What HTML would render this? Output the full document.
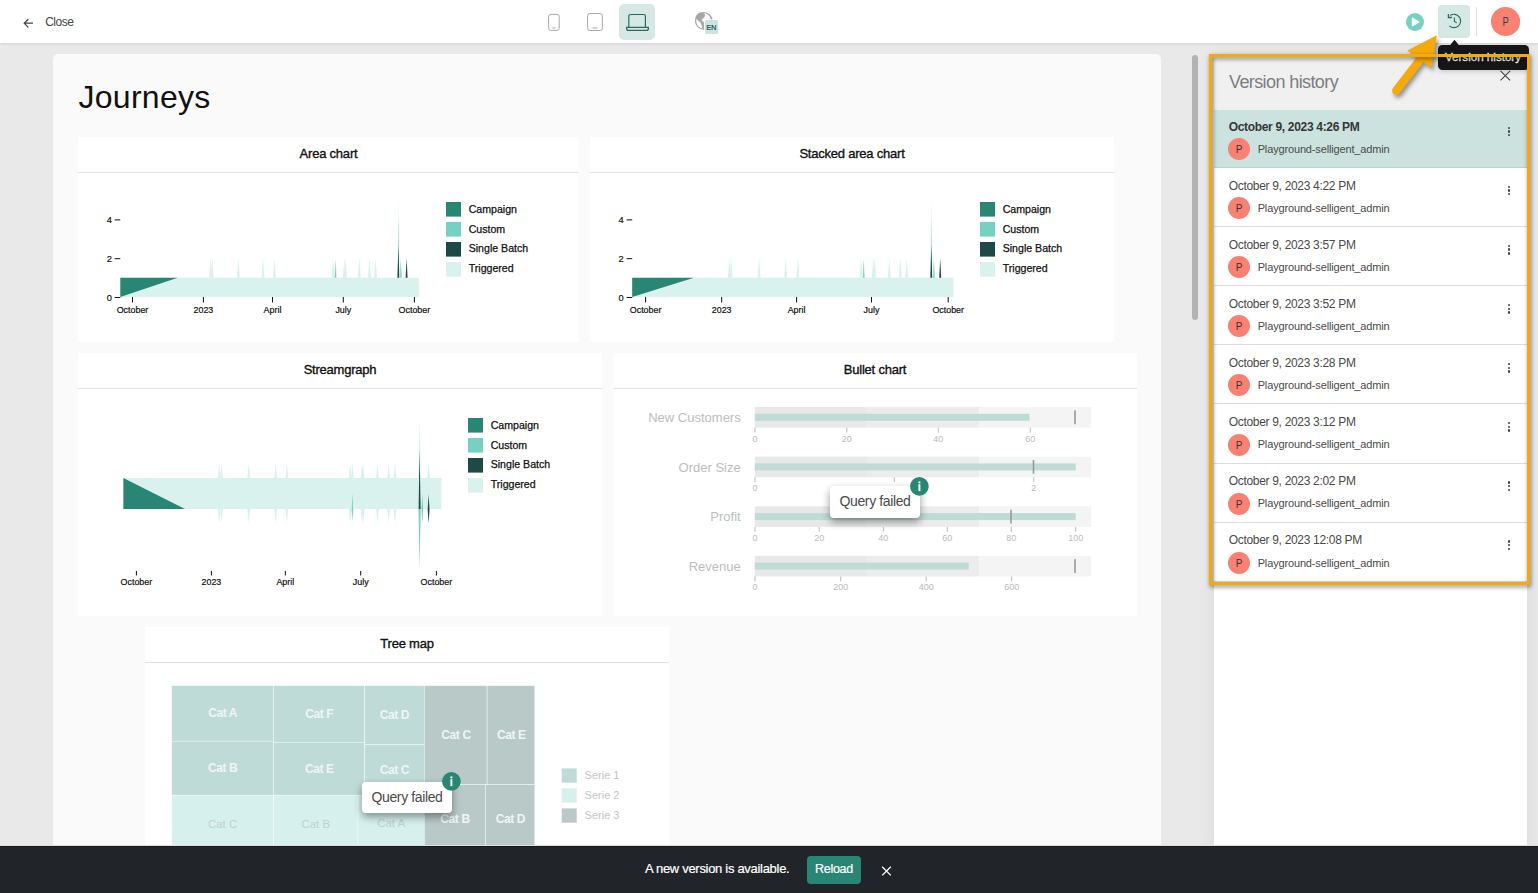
<!DOCTYPE html>
<html><head><meta charset="utf-8">
<style>
*{box-sizing:border-box;margin:0;padding:0}
html,body{width:1538px;height:893px;overflow:hidden;background:#e9e9e9;font-family:"Liberation Sans",sans-serif;}
.abs{position:absolute}
#top{position:absolute;left:0;top:0;width:1538px;height:43px;background:#fff;box-shadow:0 1px 3px rgba(0,0,0,.1);z-index:5}
#card{position:absolute;left:53px;top:54px;width:1108px;height:860px;background:#fafafa;border-radius:5px}
.w{position:absolute;background:#fff}
.w .t{position:absolute;left:0;right:0;top:0;height:36px;border-bottom:1px solid #e2e2e2;text-align:center;font-size:13px;color:#111;line-height:34px;letter-spacing:-.22px;-webkit-text-stroke:.35px #111}
svg{position:absolute;left:0;top:0;overflow:visible}
svg text{font-family:"Liberation Sans",sans-serif}
#panel{position:absolute;left:1214px;top:55px;width:313px;height:800px;background:#fff;box-shadow:0 0 18px rgba(0,0,0,.07)}
#phead{position:absolute;left:0;top:0;width:313px;height:55px;background:#f0f0f0}
.row{position:absolute;left:0;width:313px;height:59px;border-bottom:1px solid #dcdcdc}
.row .d{position:absolute;left:14.7px;top:10.5px;font-size:12px;color:#4a4a4a;white-space:nowrap;letter-spacing:-.31px}
.row .av{position:absolute;left:14px;top:28px;width:22px;height:22px;border-radius:50%;background:#fa8072;color:#333;font-size:10px;text-align:center;line-height:23px}
.row .n{position:absolute;left:43.7px;top:32px;font-size:11px;color:#444;white-space:nowrap;letter-spacing:-.15px;color:#4a4a4a}
.row .k{position:absolute;left:294px;top:17px;width:3px}
.row .k i{display:block;width:2.4px;height:2.4px;border-radius:50%;background:#444;margin-bottom:1.3px}
#bar{position:absolute;left:0;top:845px;width:1538px;height:48px;background:#212529;z-index:20;border-top:1px solid rgba(255,255,255,.85);box-shadow:inset 0 1px 0 #181a1e}
.qf{position:absolute;background:#fff;border-radius:4px;box-shadow:0 4px 9px rgba(0,0,0,.4);font-size:14px;letter-spacing:-.38px;color:#4a4a4a;text-align:center;white-space:nowrap}
.ic{position:absolute;width:18px;height:18px;border-radius:50%;background:#2a8674;color:#fff;font-size:12px;font-weight:bold;text-align:center;line-height:18px}
</style></head><body>

<div id="top">
<svg width="1538" height="43" viewBox="0 0 1538 43">
 <!-- back arrow -->
 <path d="M33 23.2H24.2M28.3 19.2L24.2 23.2L28.3 27.3" fill="none" stroke="#444" stroke-width="1.2"/>
 <!-- phone -->
 <rect x="548.6" y="14.4" width="10.6" height="16" rx="2.2" fill="none" stroke="#aaa" stroke-width="1"/>
 <path d="M552.3 28h3.2" stroke="#aaa" stroke-width="1"/>
 <!-- tablet -->
 <rect x="587.6" y="13.5" width="14.8" height="17" rx="2.2" fill="none" stroke="#aaa" stroke-width="1"/>
 <path d="M592.5 28h5" stroke="#aaa" stroke-width="1"/>
 <!-- laptop btn -->
 <rect x="619" y="4" width="36" height="36" rx="5" fill="#d5e8e4"/>
 <path d="M628.8 27.2V16.2a1.7 1.7 0 0 1 1.7-1.7h13.2a1.7 1.7 0 0 1 1.7 1.7V27.2" fill="none" stroke="#2a6b5f" stroke-width="1.2"/>
 <path d="M626.6 27.4h21.8v1a2 2 0 0 1-2 2h-17.8a2 2 0 0 1-2-2z" fill="none" stroke="#2a6b5f" stroke-width="1.2"/>
 <!-- globe -->
 <circle cx="703.700" cy="20.800" r="8.200" fill="#fff" stroke="#a6a6a6" stroke-width="1.250"/>
 <path d="M695.900 17.600L697.200 14.800L699.400 13L702.500 13.100L704.500 14.300L704.800 15.900L703.200 18.100L701.100 20.200L702.600 21.200L703.900 23L704 25.600L703.900 29.300L702.500 28.100L701.800 24.900L700.600 22.200L698.400 20.600L696.500 19.100z" fill="#a6a6a6" stroke="#a6a6a6" stroke-width=".6" stroke-linejoin="round"/>
 <path d="M709 18.600L711.300 16.700L712.700 18.600z" fill="#a6a6a6"/>
 <rect x="704.300" y="19.400" width="14.400" height="15.200" rx="2" fill="#fff"/>
 <rect x="705" y="20.100" width="13" height="13.800" rx="1.500" fill="#cde3df"/>
 <text x="711.200" y="29.900" font-size="7.600" font-weight="bold" fill="#2a6b5f" text-anchor="middle" letter-spacing="-.35">EN</text>
 <!-- play -->
 <circle cx="1415" cy="22" r="9" fill="#76d1c3"/>
 <path d="M1412.200 17.800v8.400l7-4.200z" fill="#fff" stroke="#fff" stroke-width=".8" stroke-linejoin="round"/>
 <!-- history btn -->
 <rect x="1438" y="5" width="32" height="33" rx="4" fill="#d5e8e4"/>
 <path d="M1450.200 15.400A6.700 6.700 0 1 1 1449.400 25.900" fill="none" stroke="#2a6b5f" stroke-width="1.150"/>
 <path d="M1448.400 14v3.500h3.500" fill="none" stroke="#2a6b5f" stroke-width="1.300"/>
 <path d="M1454.400 17.500v4l2.300 1.300" fill="none" stroke="#2a6b5f" stroke-width="1.100"/>
 <path d="M1476.500 7.200v28.400" stroke="#ddd" stroke-width="1"/>
 <circle cx="1505.500" cy="21.500" r="14.600" fill="#fa8072"/>
 <text x="0" y="0" font-size="12.500" fill="#24474a" text-anchor="middle" transform="translate(1505.700 25.900) scale(.74 1)">P</text>
</svg>
<div class="abs" style="left:45.200px;top:15.200px;font-size:12px;color:#444;letter-spacing:-.5px">Close</div>
</div>
<div id="card"></div>
<div class="abs" style="left:78.4px;top:79.2px;font-size:32px;color:#111;line-height:37px;letter-spacing:.3px">Journeys</div>
<div class="w" style="left:78px;top:137px;width:501px;height:205px"><div class="t">Area chart</div></div>
<div class="w" style="left:590px;top:137px;width:524px;height:205px"><div class="t">Stacked area chart</div></div>
<div class="w" style="left:78px;top:353px;width:524px;height:263px"><div class="t">Streamgraph</div></div>
<div class="w" style="left:613px;top:353px;width:524px;height:263px"><div class="t">Bullet chart</div></div>
<div class="w" style="left:145px;top:627px;width:524px;height:240px"><div class="t">Tree map</div></div>
<svg width="1538" height="893" viewBox="0 0 1538 893" style="z-index:2">
<text x="111.8" y="300.7" font-size="9.3" fill="#111" stroke="#111" stroke-width=".2" text-anchor="end">0</text><path d="M114.7 297.5h5.6" stroke="#111" stroke-width="1"/><text x="111.8" y="261.9" font-size="9.3" fill="#111" stroke="#111" stroke-width=".2" text-anchor="end">2</text><path d="M114.7 258.7h5.6" stroke="#111" stroke-width="1"/><text x="111.8" y="223.1" font-size="9.3" fill="#111" stroke="#111" stroke-width=".2" text-anchor="end">4</text><path d="M114.7 219.9h5.6" stroke="#111" stroke-width="1"/><rect x="120.3" y="277.7" width="298.6" height="19.4" fill="#d9f2ed"/><path d="M120.3 277.7L177.7 277.7L120.3 297.1z" fill="#2a8674"/><path d="M209.1 277.7L210.6 258.3L212.1 277.7z" fill="#d9f2ed"/><path d="M210.7 277.7L212.2 258.3L213.7 277.7z" fill="#d9f2ed"/><path d="M236.8 277.7L238.3 258.3L239.8 277.7z" fill="#d9f2ed"/><path d="M261.5 277.7L263.0 258.3L264.5 277.7z" fill="#d9f2ed"/><path d="M272.8 277.7L274.3 258.3L275.8 277.7z" fill="#d9f2ed"/><path d="M331.6 277.7L333.1 258.3L334.6 277.7z" fill="#d9f2ed"/><path d="M357.8 277.7L359.3 258.3L360.8 277.7z" fill="#d9f2ed"/><path d="M368.0 277.7L369.5 258.3L371.0 277.7z" fill="#d9f2ed"/><path d="M374.0 277.7L375.5 258.3L377.0 277.7z" fill="#d9f2ed"/><path d="M342.9 277.7L344.3 258.3L345.7 277.7z" fill="#d9f2ed"/><path d="M344.2 277.7L345.6 258.3L347.0 277.7z" fill="#d9f2ed"/><path d="M334.1 277.7L335.5 258.3L336.9 277.7z" fill="#d9f2ed"/><path d="M334.8 277.7L335.5 260.2L336.2 277.7z" fill="#76d1c3"/><path d="M397.2 277.7L398.4 200.1L399.6 277.7z" fill="#d9f2ed"/><path d="M397.8 277.7L398.4 219.5L398.9 277.7z" fill="#76d1c3"/><path d="M397.5 277.7L398.4 244.7L399.3 277.7z" fill="#1c4b47"/><path d="M399.5 277.7L400.8 258.3L402.1 277.7z" fill="#d9f2ed"/><path d="M400.1 277.7L400.8 259.3L401.5 277.7z" fill="#76d1c3"/><path d="M405.6 277.7L406.6 258.3L407.6 277.7z" fill="#1c4b47"/><path d="M132.5 297v5.5" stroke="#111" stroke-width="1"/><text x="132.5" y="312.5" font-size="8.9" fill="#111" stroke="#111" stroke-width=".2" text-anchor="middle">October</text><path d="M203.4 297v5.5" stroke="#111" stroke-width="1"/><text x="203.4" y="312.5" font-size="8.9" fill="#111" stroke="#111" stroke-width=".2" text-anchor="middle">2023</text><path d="M272.5 297v5.5" stroke="#111" stroke-width="1"/><text x="272.5" y="312.5" font-size="8.9" fill="#111" stroke="#111" stroke-width=".2" text-anchor="middle">April</text><path d="M343.3 297v5.5" stroke="#111" stroke-width="1"/><text x="343.3" y="312.5" font-size="8.9" fill="#111" stroke="#111" stroke-width=".2" text-anchor="middle">July</text><path d="M414.4 297v5.5" stroke="#111" stroke-width="1"/><text x="414.4" y="312.5" font-size="8.9" fill="#111" stroke="#111" stroke-width=".2" text-anchor="middle">October</text><rect x="446" y="202.0" width="15" height="14.6" fill="#2a8674"/><text x="468.7" y="212.8" font-size="10.6" fill="#111" stroke="#111" stroke-width=".25">Campaign</text><rect x="446" y="222.0" width="15" height="14.6" fill="#76d1c3"/><text x="468.7" y="232.6" font-size="10.6" fill="#111" stroke="#111" stroke-width=".25">Custom</text><rect x="446" y="242.0" width="15" height="14.6" fill="#1c4b47"/><text x="468.7" y="252.0" font-size="10.6" fill="#111" stroke="#111" stroke-width=".25">Single Batch</text><rect x="446" y="262.0" width="15" height="14.6" fill="#d9f2ed"/><text x="468.7" y="271.6" font-size="10.6" fill="#111" stroke="#111" stroke-width=".25">Triggered</text>
<text x="623.7" y="300.7" font-size="9.3" fill="#111" stroke="#111" stroke-width=".2" text-anchor="end">0</text><path d="M626.6 297.5h5.6" stroke="#111" stroke-width="1"/><text x="623.7" y="261.9" font-size="9.3" fill="#111" stroke="#111" stroke-width=".2" text-anchor="end">2</text><path d="M626.6 258.7h5.6" stroke="#111" stroke-width="1"/><text x="623.7" y="223.1" font-size="9.3" fill="#111" stroke="#111" stroke-width=".2" text-anchor="end">4</text><path d="M626.6 219.9h5.6" stroke="#111" stroke-width="1"/><rect x="632.2" y="277.7" width="321.2" height="19.4" fill="#d9f2ed"/><path d="M632.2 277.7L693.9 277.7L632.2 297.1z" fill="#2a8674"/><path d="M727.8 277.7L729.3 258.3L730.8 277.7z" fill="#d9f2ed"/><path d="M729.6 277.7L731.1 258.3L732.6 277.7z" fill="#d9f2ed"/><path d="M757.6 277.7L759.1 258.3L760.6 277.7z" fill="#d9f2ed"/><path d="M784.2 277.7L785.7 258.3L787.2 277.7z" fill="#d9f2ed"/><path d="M796.4 277.7L797.9 258.3L799.4 277.7z" fill="#d9f2ed"/><path d="M859.6 277.7L861.1 258.3L862.6 277.7z" fill="#d9f2ed"/><path d="M887.8 277.7L889.3 258.3L890.8 277.7z" fill="#d9f2ed"/><path d="M898.8 277.7L900.3 258.3L901.8 277.7z" fill="#d9f2ed"/><path d="M905.2 277.7L906.7 258.3L908.2 277.7z" fill="#d9f2ed"/><path d="M871.8 277.7L873.2 258.3L874.6 277.7z" fill="#d9f2ed"/><path d="M873.2 277.7L874.6 258.3L876.0 277.7z" fill="#d9f2ed"/><path d="M862.3 277.7L863.7 258.3L865.1 277.7z" fill="#d9f2ed"/><path d="M863.0 277.7L863.7 260.2L864.4 277.7z" fill="#76d1c3"/><path d="M930.1 277.7L931.3 200.1L932.5 277.7z" fill="#d9f2ed"/><path d="M930.8 277.7L931.3 219.5L931.9 277.7z" fill="#76d1c3"/><path d="M930.4 277.7L931.3 244.7L932.2 277.7z" fill="#1c4b47"/><path d="M932.6 277.7L933.9 258.3L935.2 277.7z" fill="#d9f2ed"/><path d="M933.2 277.7L933.9 259.3L934.6 277.7z" fill="#76d1c3"/><path d="M939.2 277.7L940.2 258.3L941.2 277.7z" fill="#1c4b47"/><path d="M645.6 297v5.5" stroke="#111" stroke-width="1"/><text x="645.6" y="312.5" font-size="8.9" fill="#111" stroke="#111" stroke-width=".2" text-anchor="middle">October</text><path d="M721.7 297v5.5" stroke="#111" stroke-width="1"/><text x="721.7" y="312.5" font-size="8.9" fill="#111" stroke="#111" stroke-width=".2" text-anchor="middle">2023</text><path d="M796.6 297v5.5" stroke="#111" stroke-width="1"/><text x="796.6" y="312.5" font-size="8.9" fill="#111" stroke="#111" stroke-width=".2" text-anchor="middle">April</text><path d="M871.5 297v5.5" stroke="#111" stroke-width="1"/><text x="871.5" y="312.5" font-size="8.9" fill="#111" stroke="#111" stroke-width=".2" text-anchor="middle">July</text><path d="M948.2 297v5.5" stroke="#111" stroke-width="1"/><text x="948.2" y="312.5" font-size="8.9" fill="#111" stroke="#111" stroke-width=".2" text-anchor="middle">October</text><rect x="980" y="202.0" width="15" height="14.6" fill="#2a8674"/><text x="1002.7" y="212.8" font-size="10.6" fill="#111" stroke="#111" stroke-width=".25">Campaign</text><rect x="980" y="222.0" width="15" height="14.6" fill="#76d1c3"/><text x="1002.7" y="232.6" font-size="10.6" fill="#111" stroke="#111" stroke-width=".25">Custom</text><rect x="980" y="242.0" width="15" height="14.6" fill="#1c4b47"/><text x="1002.7" y="252.0" font-size="10.6" fill="#111" stroke="#111" stroke-width=".25">Single Batch</text><rect x="980" y="262.0" width="15" height="14.6" fill="#d9f2ed"/><text x="1002.7" y="271.6" font-size="10.6" fill="#111" stroke="#111" stroke-width=".25">Triggered</text>
<rect x="123.4" y="478" width="317.9" height="31" fill="#d9f2ed"/><path d="M123.4 478L185 509L123.4 509z" fill="#2a8674"/><path d="M217.8 478L219.2 463.4L220.6 478z" fill="#d9f2ed"/><path d="M217.8 509L219.2 523.2L220.6 509z" fill="#d9f2ed"/><path d="M220.2 478L221.6 463.4L223.0 478z" fill="#d9f2ed"/><path d="M220.2 509L221.6 523.2L223.0 509z" fill="#d9f2ed"/><path d="M247.4 478L248.8 463.4L250.2 478z" fill="#d9f2ed"/><path d="M247.4 509L248.8 523.2L250.2 509z" fill="#d9f2ed"/><path d="M274.3 478L275.7 463.4L277.1 478z" fill="#d9f2ed"/><path d="M274.3 509L275.7 523.2L277.1 509z" fill="#d9f2ed"/><path d="M285.5 478L286.9 463.4L288.3 478z" fill="#d9f2ed"/><path d="M285.5 509L286.9 523.2L288.3 509z" fill="#d9f2ed"/><path d="M348.8 478L350.2 463.4L351.6 478z" fill="#d9f2ed"/><path d="M348.8 509L350.2 523.2L351.6 509z" fill="#d9f2ed"/><path d="M351.0 478L352.4 463.4L353.8 478z" fill="#d9f2ed"/><path d="M351.0 509L352.4 523.2L353.8 509z" fill="#d9f2ed"/><path d="M360.6 478L362.0 463.4L363.4 478z" fill="#d9f2ed"/><path d="M360.6 509L362.0 523.2L363.4 509z" fill="#d9f2ed"/><path d="M361.8 478L363.2 463.4L364.6 478z" fill="#d9f2ed"/><path d="M361.8 509L363.2 523.2L364.6 509z" fill="#d9f2ed"/><path d="M376.1 478L377.5 463.4L378.9 478z" fill="#d9f2ed"/><path d="M376.1 509L377.5 523.2L378.9 509z" fill="#d9f2ed"/><path d="M387.3 478L388.7 463.4L390.1 478z" fill="#d9f2ed"/><path d="M387.3 509L388.7 523.2L390.1 509z" fill="#d9f2ed"/><path d="M393.6 478L395.0 463.4L396.4 478z" fill="#d9f2ed"/><path d="M393.6 509L395.0 523.2L396.4 509z" fill="#d9f2ed"/><path d="M427.2 478L428.6 463.4L430.0 478z" fill="#d9f2ed"/><path d="M427.2 509L428.6 523.2L430.0 509z" fill="#d9f2ed"/><path d="M351.7 509L352.4 493L353.1 509z" fill="#76d1c3"/><path d="M351.7 509L352.4 520L353.1 509z" fill="#76d1c3"/><path d="M418.4 478L419.6 419L420.8 478z" fill="#d9f2ed"/><path d="M418.5 509L419.6 569L420.7 509z" fill="#76d1c3"/><path d="M418.6 509L419.6 449L420.6 509z" fill="#1c4b47"/><path d="M421.4 509L422.3 494L423.2 509z" fill="#76d1c3"/><path d="M421.4 509L422.3 523L423.2 509z" fill="#76d1c3"/><path d="M427.7 509L428.6 494L429.5 509z" fill="#1c4b47"/><path d="M427.7 509L428.6 523L429.5 509z" fill="#1c4b47"/><path d="M136.4 571v4.5" stroke="#111" stroke-width="1"/><text x="136.4" y="585" font-size="8.9" fill="#111" stroke="#111" stroke-width=".2" text-anchor="middle">October</text><path d="M211.4 571v4.5" stroke="#111" stroke-width="1"/><text x="211.4" y="585" font-size="8.9" fill="#111" stroke="#111" stroke-width=".2" text-anchor="middle">2023</text><path d="M285.3 571v4.5" stroke="#111" stroke-width="1"/><text x="285.3" y="585" font-size="8.9" fill="#111" stroke="#111" stroke-width=".2" text-anchor="middle">April</text><path d="M360.7 571v4.5" stroke="#111" stroke-width="1"/><text x="360.7" y="585" font-size="8.9" fill="#111" stroke="#111" stroke-width=".2" text-anchor="middle">July</text><path d="M436.4 571v4.5" stroke="#111" stroke-width="1"/><text x="436.4" y="585" font-size="8.9" fill="#111" stroke="#111" stroke-width=".2" text-anchor="middle">October</text><rect x="468" y="418.0" width="15" height="14.6" fill="#2a8674"/><text x="490.7" y="428.8" font-size="10.6" fill="#111" stroke="#111" stroke-width=".25">Campaign</text><rect x="468" y="438.0" width="15" height="14.6" fill="#76d1c3"/><text x="490.7" y="448.6" font-size="10.6" fill="#111" stroke="#111" stroke-width=".25">Custom</text><rect x="468" y="458.0" width="15" height="14.6" fill="#1c4b47"/><text x="490.7" y="468.0" font-size="10.6" fill="#111" stroke="#111" stroke-width=".25">Single Batch</text><rect x="468" y="478.0" width="15" height="14.6" fill="#d9f2ed"/><text x="490.7" y="487.6" font-size="10.6" fill="#111" stroke="#111" stroke-width=".25">Triggered</text>
<rect x="754.8" y="407" width="112" height="20.6" fill="#e8e8e8"/><rect x="866.8" y="407" width="112.4" height="20.6" fill="#ececec"/><rect x="979.2" y="407" width="112" height="20.6" fill="#f4f4f4"/><rect x="754.8" y="413.8" width="274.7" height="7" fill="#bedbd6"/><rect x="1074.2" y="410.4" width="1.6" height="13.8" fill="#999"/><text x="740.7" y="422.1" font-size="13" fill="#bdbdbd" text-anchor="end">New Customers</text><path d="M755.0 427.6v5" stroke="#bbb" stroke-width="1"/><text x="755.0" y="441.6" font-size="9" fill="#bbb" text-anchor="middle">0</text><path d="M846.8 427.6v5" stroke="#bbb" stroke-width="1"/><text x="846.8" y="441.6" font-size="9" fill="#bbb" text-anchor="middle">20</text><path d="M938.3 427.6v5" stroke="#bbb" stroke-width="1"/><text x="938.3" y="441.6" font-size="9" fill="#bbb" text-anchor="middle">40</text><path d="M1030.3 427.6v5" stroke="#bbb" stroke-width="1"/><text x="1030.3" y="441.6" font-size="9" fill="#bbb" text-anchor="middle">60</text><rect x="754.8" y="456.6" width="112" height="20.6" fill="#e8e8e8"/><rect x="866.8" y="456.6" width="112.4" height="20.6" fill="#ececec"/><rect x="979.2" y="456.6" width="112" height="20.6" fill="#f4f4f4"/><rect x="754.8" y="463.4" width="320.9" height="7" fill="#bedbd6"/><rect x="1032.7" y="460.0" width="1.6" height="13.8" fill="#999"/><text x="740.7" y="471.7" font-size="13" fill="#bdbdbd" text-anchor="end">Order Size</text><path d="M755.0 477.2v5" stroke="#bbb" stroke-width="1"/><text x="755.0" y="491.2" font-size="9" fill="#bbb" text-anchor="middle">0</text><path d="M894.3 477.2v5" stroke="#bbb" stroke-width="1"/><text x="894.3" y="491.2" font-size="9" fill="#bbb" text-anchor="middle"></text><path d="M1033.8 477.2v5" stroke="#bbb" stroke-width="1"/><text x="1033.8" y="491.2" font-size="9" fill="#bbb" text-anchor="middle">2</text><rect x="754.8" y="506.3" width="112" height="20.6" fill="#e8e8e8"/><rect x="866.8" y="506.3" width="112.4" height="20.6" fill="#ececec"/><rect x="979.2" y="506.3" width="112" height="20.6" fill="#f4f4f4"/><rect x="754.8" y="513.1" width="320.9" height="7" fill="#bedbd6"/><rect x="1010.2" y="509.7" width="1.6" height="13.8" fill="#999"/><text x="740.7" y="521.4" font-size="13" fill="#bdbdbd" text-anchor="end">Profit</text><path d="M755.0 526.9v5" stroke="#bbb" stroke-width="1"/><text x="755.0" y="540.9" font-size="9" fill="#bbb" text-anchor="middle">0</text><path d="M819.2 526.9v5" stroke="#bbb" stroke-width="1"/><text x="819.2" y="540.9" font-size="9" fill="#bbb" text-anchor="middle">20</text><path d="M883.3 526.9v5" stroke="#bbb" stroke-width="1"/><text x="883.3" y="540.9" font-size="9" fill="#bbb" text-anchor="middle">40</text><path d="M947.3 526.9v5" stroke="#bbb" stroke-width="1"/><text x="947.3" y="540.9" font-size="9" fill="#bbb" text-anchor="middle">60</text><path d="M1011.3 526.9v5" stroke="#bbb" stroke-width="1"/><text x="1011.3" y="540.9" font-size="9" fill="#bbb" text-anchor="middle">80</text><path d="M1075.7 526.9v5" stroke="#bbb" stroke-width="1"/><text x="1075.7" y="540.9" font-size="9" fill="#bbb" text-anchor="middle">100</text><rect x="754.8" y="555.8" width="112" height="20.6" fill="#e8e8e8"/><rect x="866.8" y="555.8" width="112.4" height="20.6" fill="#ececec"/><rect x="979.2" y="555.8" width="112" height="20.6" fill="#f4f4f4"/><rect x="754.8" y="562.6" width="213.9" height="7" fill="#bedbd6"/><rect x="1074.2" y="559.2" width="1.6" height="13.8" fill="#999"/><text x="740.7" y="570.9" font-size="13" fill="#bdbdbd" text-anchor="end">Revenue</text><path d="M755.0 576.4v5" stroke="#bbb" stroke-width="1"/><text x="755.0" y="590.4" font-size="9" fill="#bbb" text-anchor="middle">0</text><path d="M840.7 576.4v5" stroke="#bbb" stroke-width="1"/><text x="840.7" y="590.4" font-size="9" fill="#bbb" text-anchor="middle">200</text><path d="M926.2 576.4v5" stroke="#bbb" stroke-width="1"/><text x="926.2" y="590.4" font-size="9" fill="#bbb" text-anchor="middle">400</text><path d="M1011.7 576.4v5" stroke="#bbb" stroke-width="1"/><text x="1011.7" y="590.4" font-size="9" fill="#bbb" text-anchor="middle">600</text>
<rect x="171.8" y="685.8" width="362.7" height="175" fill="#fff"/><rect x="171.8" y="685.8" width="101.2" height="55.1" fill="#bfdbd7"/><rect x="171.8" y="741.4" width="101.2" height="53.5" fill="#bfdbd7"/><rect x="171.8" y="795.4" width="101.2" height="64.6" fill="#d6f1ed"/><rect x="273.6" y="685.8" width="90.7" height="56.2" fill="#bfdbd7"/><rect x="273.6" y="742.5" width="90.7" height="52.4" fill="#bfdbd7"/><rect x="273.6" y="795.4" width="84.0" height="64.6" fill="#d6f1ed"/><rect x="364.9" y="685.8" width="59.3" height="58.6" fill="#bfdbd7"/><rect x="364.9" y="745" width="59.3" height="49.9" fill="#bfdbd7"/><rect x="358.2" y="795.4" width="66.0" height="64.6" fill="#d6f1ed"/><rect x="424.6" y="685.8" width="62.2" height="98.4" fill="#b9c9c8"/><rect x="487.4" y="685.8" width="47.1" height="98.4" fill="#b9c9c8"/><rect x="424.6" y="784.8" width="60.6" height="75.2" fill="#b9c9c8"/><rect x="485.8" y="784.8" width="48.7" height="75.2" fill="#b9c9c8"/><text x="222.6" y="717.2" font-size="12" font-weight="bold" fill="#eef6f5" text-anchor="middle" letter-spacing="-.4">Cat A</text><text x="222.6" y="772.4" font-size="12" font-weight="bold" fill="#eef6f5" text-anchor="middle" letter-spacing="-.4">Cat B</text><text x="222.6" y="828.2" font-size="11.4" fill="#c0d0cd" text-anchor="middle">Cat C</text><text x="319.3" y="718" font-size="12" font-weight="bold" fill="#eef6f5" text-anchor="middle" letter-spacing="-.4">Cat F</text><text x="319.3" y="773" font-size="12" font-weight="bold" fill="#eef6f5" text-anchor="middle" letter-spacing="-.4">Cat E</text><text x="315.8" y="828.2" font-size="11.4" fill="#c0d0cd" text-anchor="middle">Cat B</text><text x="394.4" y="719" font-size="12" font-weight="bold" fill="#eef6f5" text-anchor="middle" letter-spacing="-.4">Cat D</text><text x="394.4" y="774" font-size="12" font-weight="bold" fill="#eef6f5" text-anchor="middle" letter-spacing="-.4">Cat C</text><text x="391.2" y="827.4" font-size="11.4" fill="#c0d0cd" text-anchor="middle">Cat A</text><text x="456" y="739" font-size="12" font-weight="bold" fill="#eef6f5" text-anchor="middle" letter-spacing="-.4">Cat C</text><text x="511.4" y="739" font-size="12" font-weight="bold" fill="#eef6f5" text-anchor="middle" letter-spacing="-.4">Cat E</text><text x="455" y="823" font-size="12" font-weight="bold" fill="#eef6f5" text-anchor="middle" letter-spacing="-.4">Cat B</text><text x="510.4" y="823" font-size="12" font-weight="bold" fill="#eef6f5" text-anchor="middle" letter-spacing="-.4">Cat D</text><rect x="561.7" y="768.4" width="15" height="14.3" fill="#bfdbd7"/><text x="584.6" y="779.4" font-size="11" fill="#c4c4c4">Serie 1</text><rect x="561.7" y="788.4" width="15" height="14.3" fill="#d6f1ed"/><text x="584.6" y="799.4" font-size="11" fill="#c4c4c4">Serie 2</text><rect x="561.7" y="808.4" width="15" height="14.3" fill="#b9c9c8"/><text x="584.6" y="819.4" font-size="11" fill="#c4c4c4">Serie 3</text>
</svg>
<div class="qf" style="left:830px;top:486px;width:90px;height:31.5px;line-height:30.5px;z-index:3">Query failed</div>
<svg width="20" height="20" style="left:909.5px;top:477px;z-index:4"><circle cx="9.4" cy="9.4" r="9.3" fill="#2a8674"/><circle cx="9.4" cy="5.4" r="1.15" fill="#fff"/><rect x="8.4" y="7.2" width="2" height="6.9" fill="#fff"/></svg>
<div class="qf" style="left:362px;top:782px;width:90px;height:31px;line-height:30px;z-index:3">Query failed</div>
<svg width="20" height="20" style="left:441.8px;top:772.3px;z-index:4"><circle cx="9.4" cy="9.4" r="9.3" fill="#2a8674"/><circle cx="9.4" cy="5.4" r="1.15" fill="#fff"/><rect x="8.4" y="7.2" width="2" height="6.9" fill="#fff"/></svg>
<div class="abs" style="left:1192px;top:55px;width:6px;height:265px;border-radius:3px;background:#b3b3b3"></div>
<div id="panel"><div id="phead"></div>
<div class="abs" style="left:15px;top:16.5px;font-size:18px;color:#7d7d7d;white-space:nowrap;letter-spacing:-.6px">Version history</div>
<svg width="313" height="60" style="left:0;top:0"><path d="M286.5 15.800l9.600 9.600M296.100 15.800l-9.600 9.600" stroke="#444" stroke-width="1.100" fill="none"/></svg>
<div class="row" style="top:55px;height:58px;background:#cbe2de;border-bottom-color:#b9d3ce"><div class="d" style="font-weight:bold;color:#333;letter-spacing:-.32px;top:9.5px;color:#363636">October 9, 2023 4:26 PM</div><div class="av" style="top:28px">P</div><div class="n" style="top:32.9px">Playground-selligent_admin</div><div class="k" style="top:16.6px"><i></i><i></i><i></i></div></div>
<div class="row" style="top:113.10px"><div class="d">October 9, 2023 4:22 PM</div><div class="av" style="top:29px">P</div><div class="n" style="top:33.9px">Playground-selligent_admin</div><div class="k" style="top:17.6px"><i></i><i></i><i></i></div></div>
<div class="row" style="top:172.20px"><div class="d">October 9, 2023 3:57 PM</div><div class="av" style="top:29px">P</div><div class="n" style="top:33.9px">Playground-selligent_admin</div><div class="k" style="top:17.6px"><i></i><i></i><i></i></div></div>
<div class="row" style="top:231.30px"><div class="d">October 9, 2023 3:52 PM</div><div class="av" style="top:29px">P</div><div class="n" style="top:33.9px">Playground-selligent_admin</div><div class="k" style="top:17.6px"><i></i><i></i><i></i></div></div>
<div class="row" style="top:290.40px"><div class="d">October 9, 2023 3:28 PM</div><div class="av" style="top:29px">P</div><div class="n" style="top:33.9px">Playground-selligent_admin</div><div class="k" style="top:17.6px"><i></i><i></i><i></i></div></div>
<div class="row" style="top:349.50px"><div class="d">October 9, 2023 3:12 PM</div><div class="av" style="top:29px">P</div><div class="n" style="top:33.9px">Playground-selligent_admin</div><div class="k" style="top:17.6px"><i></i><i></i><i></i></div></div>
<div class="row" style="top:408.60px"><div class="d">October 9, 2023 2:02 PM</div><div class="av" style="top:29px">P</div><div class="n" style="top:33.9px">Playground-selligent_admin</div><div class="k" style="top:17.6px"><i></i><i></i><i></i></div></div>
<div class="row" style="top:467.70px"><div class="d">October 9, 2023 12:08 PM</div><div class="av" style="top:29px">P</div><div class="n" style="top:33.9px">Playground-selligent_admin</div><div class="k" style="top:17.6px"><i></i><i></i><i></i></div></div>
</div>
<!-- tooltip -->
<div class="abs" style="left:1438px;top:45px;width:91px;height:25px;background:#161616;border-radius:4.5px;z-index:6;box-shadow:0 2px 4px rgba(0,0,0,.15);color:#fff;font-size:11.6px;line-height:24.6px;text-align:center;white-space:nowrap;letter-spacing:0px;-webkit-text-stroke:.3px #fff;text-indent:-1px">Version history</div>
<svg width="20" height="8" style="left:1448px;top:38.500px;z-index:6"><path d="M1.500 7L6.500 .8L11.500 7z" fill="#161616"/></svg>
<!-- orange frame -->
<div class="abs" style="left:1209px;top:54px;width:321px;height:531px;border:3px solid #f5a90a;z-index:8;filter:drop-shadow(1.5px 2.5px 2.2px rgba(0,0,0,.5))"></div>
<svg width="80" height="80" viewBox="1380 25 80 80" style="left:1380px;top:25px;z-index:7;filter:drop-shadow(2px 3px 2px rgba(0,0,0,.4))">
 <path d="M1396.300 90.600L1419.500 60.500" stroke="#f5a90a" stroke-width="8.400" stroke-linecap="round" fill="none"/>
 <path d="M1436.900 35.300L1407.300 50.500L1431.500 68z" fill="#f5a90a"/>
</svg>
<div id="bar">
<div class="abs" style="left:645px;top:15.4px;font-size:13px;letter-spacing:-.3px;-webkit-text-stroke:.2px #fff;color:#fff;white-space:nowrap;line-height:16px">A new version is available.</div>
<div class="abs" style="left:807px;top:10px;width:54px;height:28px;border-radius:4px;background:#2a8674;color:#fff;font-size:12.5px;letter-spacing:-.3px;-webkit-text-stroke:.2px #fff;text-align:center;line-height:27px">Reload</div>
<svg width="20" height="20" style="left:877px;top:16.4px"><path d="M5.200 4.800l8.600 8.600M13.800 4.800l-8.600 8.600" stroke="#fff" stroke-width="1.300" fill="none"/></svg>
</div>

</body></html>
